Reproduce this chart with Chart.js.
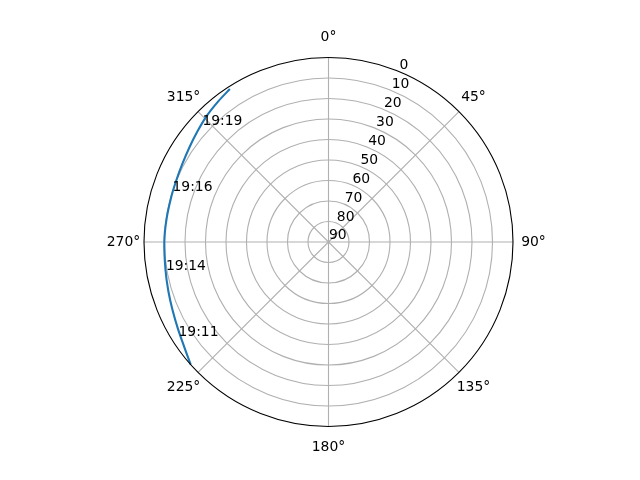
<!DOCTYPE html>
<html><head><meta charset="utf-8">
<script src="https://cdn.jsdelivr.net/npm/chart.js@4.4.0/dist/chart.umd.min.js"></script>
<style>html,body{margin:0;padding:0;background:#fff;} canvas{display:block;}</style>
</head><body>
<canvas id="c" width="640" height="480"></canvas>
<script>
// Pass track: azimuth (deg, clockwise from north) and elevation (deg)
const azimuth   = [228.3, 234, 240, 246.5, 253, 260, 270, 278, 286, 292, 298, 304, 310, 316, 322, 327.2];
const elevation = [0.0, 3.0, 5.2, 7.0, 8.3, 9.3, 9.9, 10.2, 10.2, 9.9, 9.2, 8.0, 6.4, 4.5, 2.8, 1.2];
// Time annotations along the track
const timeLabels = ['19:11', '19:14', '19:16', '19:19'];
const timeAz     = [238.0, 260.2, 288.2, 312.9];
const timeEl     = [3.7, 9.5, 9.9, 6.05];
// Axis ticks
const radialTicks = [0, 10, 20, 30, 40, 50, 60, 70, 80, 90];
const angleTicks = [0, 45, 90, 135, 180, 225, 270, 315];
const angleTickLabels = ['0°', '45°', '90°', '135°', '180°', '225°', '270°', '315°'];

const FONT = '13.9px "DejaVu Sans"';
function polar(az, el) {
  const r = 90 - el, a = az * Math.PI / 180;
  return { x: r * Math.sin(a), y: r * Math.cos(a) };
}
const track = azimuth.map((a, i) => polar(a, elevation[i]));

function geom(chart) {
  const { x, y } = chart.scales;
  const cx = x.getPixelForValue(0), cy = y.getPixelForValue(0);
  const unit = x.getPixelForValue(1) - cx;
  const px = (az, el) => { const p = polar(az, el); return [x.getPixelForValue(p.x), y.getPixelForValue(p.y)]; };
  return { cx, cy, unit, px };
}

const polarAxes = {
  id: 'polarAxes',
  beforeDatasetsDraw(chart) {
    const ctx = chart.ctx;
    const { cx, cy, unit, px } = geom(chart);
    ctx.save();
    ctx.strokeStyle = '#b0b0b0';
    ctx.lineWidth = 1.1;
    radialTicks.forEach(v => {
      if (v > 0 && v < 90) {
        ctx.beginPath();
        ctx.arc(cx, cy, (90 - v) * unit, 0, Math.PI * 2);
        ctx.stroke();
      }
    });
    angleTicks.forEach(a => {
      const [ex, ey] = px(a, 0);
      ctx.beginPath();
      ctx.moveTo(cx, cy);
      ctx.lineTo(ex, ey);
      ctx.stroke();
    });
    ctx.restore();
  },
  afterDatasetsDraw(chart) {
    const ctx = chart.ctx;
    const { cx, cy, unit, px } = geom(chart);
    ctx.save();
    ctx.strokeStyle = '#000';
    ctx.lineWidth = 1.1;
    ctx.beginPath();
    ctx.arc(cx, cy, 90 * unit, 0, Math.PI * 2);
    ctx.stroke();
    ctx.fillStyle = '#000';
    ctx.font = FONT;
    // radial tick labels along 22.5°
    ctx.textAlign = 'left';
    ctx.textBaseline = 'alphabetic';
    radialTicks.forEach(v => {
      const [tx, ty] = px(22.5, v);
      ctx.fillText(String(v), tx + 0.5, ty - 2.5);
    });
    // angle labels
    ctx.textAlign = 'center';
    ctx.textBaseline = 'middle';
    angleTicks.forEach((a, i) => {
      const [tx, ty] = px(a, -10);
      ctx.fillText(angleTickLabels[i], tx, ty);
    });
    // time annotations
    ctx.textAlign = 'left';
    ctx.textBaseline = 'alphabetic';
    timeLabels.forEach((t, i) => {
      const [tx, ty] = px(timeAz[i], timeEl[i]);
      ctx.fillText(t, tx, ty);
    });
    ctx.restore();
  }
};

new Chart(document.getElementById('c'), {
  type: 'scatter',
  data: {
    datasets: [{
      data: track,
      showLine: true,
      borderColor: '#1f77b4',
      borderWidth: 2.1,
      pointRadius: 0,
      tension: 0.25,
      fill: false
    }]
  },
  options: {
    responsive: false,
    animation: false,
    events: [],
    layout: { padding: 0 },
    plugins: { legend: { display: false }, tooltip: { enabled: false } },
    scales: {
      x: { type: 'linear', display: false, min: -160.24, max: 151.95 },
      y: { type: 'linear', display: false, min: -116.10, max: 118.05 }
    }
  },
  plugins: [polarAxes]
});
</script>
</body></html>
